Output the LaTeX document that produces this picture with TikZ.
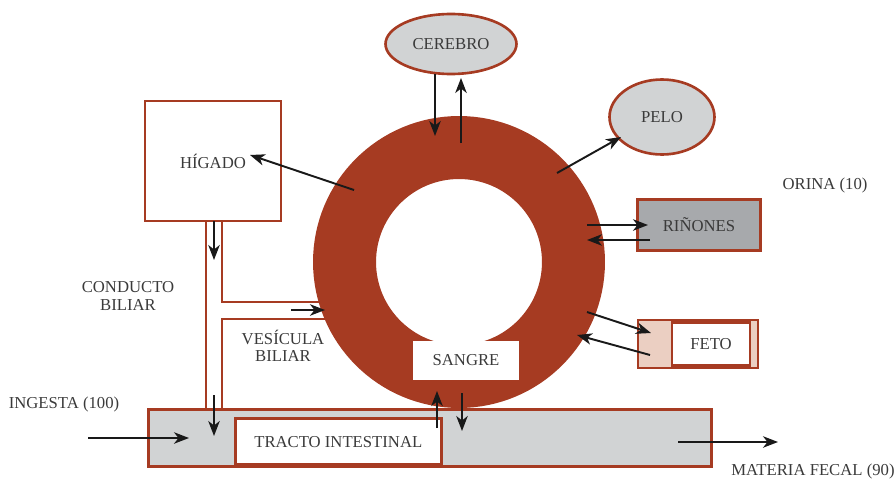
\documentclass[tikz,border=0pt]{standalone}
\usepackage{fontspec}
\setmainfont{Liberation Serif}
\usetikzlibrary{shapes.geometric}
\usetikzlibrary{arrows.meta}
\definecolor{ladrillo}{HTML}{A63B22}
\definecolor{grisclaro}{HTML}{D1D3D4}
\definecolor{grisoscuro}{HTML}{A7A9AC}
\definecolor{rosado}{HTML}{EBCFC2}
\definecolor{texto}{HTML}{3A3A3A}
\tikzset{
  organo/.style={draw=ladrillo, line width=1.5pt, text=texto, font=\fontsize{9.5}{9.8}\selectfont, inner sep=0pt},
  rotulo/.style={text=texto, font=\fontsize{9.5}{9.8}\selectfont, align=center, inner sep=0pt},
  flecha/.style={-{Stealth[length=8.5pt,width=6.5pt,inset=2.5pt]}, line width=1.1pt, black!90},
  ducto/.style={draw=ladrillo, line width=1.1pt},
}

\begin{document}
\begin{tikzpicture}[x=0.02cm, y=-0.02cm]
    \useasboundingbox (0,0) rectangle (896,480);
    % conducto biliar y vesicula
    \draw[ducto] (206,221) -- (206,411);
    \draw[ducto] (222,221) -- (222,302) -- (330,302);
    \draw[ducto] (330,319) -- (222,319) -- (222,411);
    % sangre
    \node[circle, draw=ladrillo, line width=1.26cm, minimum size=4.58cm, inner sep=0pt] (anillo) at (459,262) {};
    \node[fill=white, minimum width=2.12cm, minimum height=0.78cm, rotulo] (sangre) at (466,360) {SANGRE};
    % organos
    \node[organo, ellipse, fill=grisclaro, minimum width=2.62cm, minimum height=1.2cm] (cerebro) at (451,44) {CEREBRO};
    \node[organo, ellipse, fill=grisclaro, minimum width=2.1cm, minimum height=1.5cm] (pelo) at (662,117) {PELO};
    \node[organo, fill=white, minimum width=2.72cm, minimum height=2.4cm] (higado) at (213,161) {H\'IGADO};
    \node[organo, fill=grisoscuro, minimum width=2.46cm, minimum height=1.02cm] (rinones) at (699,225) {RI\~NONES};
    \node[organo, fill=rosado, minimum width=2.4cm, minimum height=0.96cm] (fetobox) at (698,344) {};
    \node[organo, fill=white, minimum width=1.56cm, minimum height=0.86cm] (feto) at (711,344) {FETO};
    \node[organo, fill=grisclaro, minimum width=11.26cm, minimum height=1.14cm] (tracto) at (430,438) {};
    \node[organo, fill=white, minimum width=4.12cm, minimum height=0.92cm, anchor=south west] (intestino) at (234,466) {TRACTO INTESTINAL};
    % rotulos
    \node[rotulo] (conducto) at (128,296) {CONDUCTO\\BILIAR};
    \node[rotulo] (vesicula) at (283,346) {VES\'ICULA\\BILIAR};
    \node[rotulo] (ingesta) at (64,404) {INGESTA (100)};
    \node[rotulo] (orina) at (825,185) {ORINA (10)};
    \node[rotulo] (fecal) at (813,471) {MATERIA FECAL (90)};
    % puntos de las flechas
    \coordinate (c1) at (435,74);   \coordinate (c2) at (435,136);
    \coordinate (c3) at (461,143);  \coordinate (c4) at (461,78);
    \coordinate (h1) at (354,190);  \coordinate (h2) at (250,155);
    \coordinate (p1) at (557,173);  \coordinate (p2) at (621,137);
    \coordinate (r1) at (587,225);  \coordinate (r2) at (648,225);
    \coordinate (r3) at (650,240);  \coordinate (r4) at (587,240);
    \coordinate (f1) at (587,312);  \coordinate (f2) at (651,333);
    \coordinate (f3) at (650,355);  \coordinate (f4) at (577,335);
    \coordinate (b1) at (214,221);  \coordinate (b2) at (214,260);
    \coordinate (v1) at (291,310);  \coordinate (v2) at (325,310);
    \coordinate (d1) at (214,395);  \coordinate (d2) at (214,436);
    \coordinate (s1) at (437,428);  \coordinate (s2) at (437,391);
    \coordinate (s3) at (462,393);  \coordinate (s4) at (462,431);
    \coordinate (i1) at (88,438);   \coordinate (i2) at (189,438);
    \coordinate (m1) at (678,442);  \coordinate (m2) at (778,442);
    % flechas
    \draw[flecha] (c1) -- (c2);
    \draw[flecha] (c3) -- (c4);
    \draw[flecha] (h1) -- (h2);
    \draw[flecha] (p1) -- (p2);
    \draw[flecha] (r1) -- (r2);
    \draw[flecha] (r3) -- (r4);
    \draw[flecha] (f1) -- (f2);
    \draw[flecha] (f3) -- (f4);
    \draw[flecha] (b1) -- (b2);
    \draw[flecha] (v1) -- (v2);
    \draw[flecha] (d1) -- (d2);
    \draw[flecha] (s1) -- (s2);
    \draw[flecha] (s3) -- (s4);
    \draw[flecha] (i1) -- (i2);
    \draw[flecha] (m1) -- (m2);
\end{tikzpicture}
\end{document}
